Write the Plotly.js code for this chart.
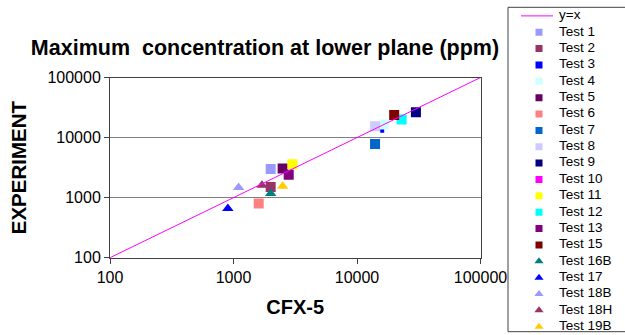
<!DOCTYPE html>
<html>
<head>
<meta charset="utf-8">
<script src="https://cdn.plot.ly/plotly-3.0.1.min.js"></script>
<style>html,body{margin:0;padding:0;background:#fff;}#chart{width:625px;height:335px;}</style>
</head>
<body>
<div id="chart"></div>
<script>
// ---- data ----
const tests = ['Test 1','Test 2','Test 3','Test 4','Test 5','Test 6','Test 7','Test 8','Test 9','Test 10',
               'Test 11','Test 12','Test 13','Test 15','Test 16B','Test 17','Test 18B','Test 18H','Test 19B'];
const cfx5 =       [2000, 2000, 16000, 16500, 2500, 1600, 14000, 14000, 30000, null, 3000, 23000, 2800, 20000, 2000, 900, 1100, 1700, 2500];
const experiment = [3000, 1500, 13000, 16500, 3050,  800,  7800, 15500, 26500, null, 3600, 20000, 2400, 23700, 1170, 660, 1480, 1610, 1550];
const colors = ['#9999FF','#993366','#0000FF','#CCFFFF','#660066','#FF8080','#0066CC','#CCCCFF','#000080','#FF00FF',
                '#FFFF00','#00FFFF','#800080','#800000','#008080','#0000FF','#9999FF','#993366','#FFCC00'];
const symbols = ['square','square','square','square','square','square','square','square','square','square',
                 'square','square','square','square','triangle-up','triangle-up','triangle-up','triangle-up','triangle-up'];
const lineLabel = 'y=x';
const lineX = [100, 100000];
const lineY = [100, 100000];
const tickVals = [100, 1000, 10000, 100000];
const tickLabels = ['100', '1000', '10000', '100000'];

// ---- layout constants (pixels) ----
const W = 625, H = 335;
const FONT = 'Liberation Sans, Arial, sans-serif';
const plotL = 110, plotR = 480.5, plotT = 77.5, plotB = 257.7;
const legL = 508, legMarkerX = 539, legTextX = 559;

const traces = [];
tests.forEach((name, i) => {
  const isTri = symbols[i] === 'triangle-up';
  traces.push({
    type: 'scatter', mode: 'markers', name: name,
    x: [cfx5[i]], y: [experiment[i]],
    xaxis: 'x', yaxis: 'y',
    marker: { color: colors[i], symbol: symbols[i], opacity: 1,
              size: name === 'Test 3' ? 4 : 10, line: { width: 0 } },
    showlegend: false, hoverinfo: 'x+y+name'
  });
});
traces.push({
  type: 'scatter', mode: 'lines', name: lineLabel, x: lineX, y: lineY,
  xaxis: 'x', yaxis: 'y', line: { color: '#FF00FF', width: 1 }, showlegend: false
});
// custom legend built from the same names / colours / symbols
traces.push({
  type: 'scatter', mode: 'markers', xaxis: 'x2', yaxis: 'y2',
  x: tests.map(() => legMarkerX), y: tests,
  marker: { color: colors, symbol: symbols, opacity: 1,
            size: symbols.map(s => s === 'square' ? 7 : 8), line: { width: 0 } },
  showlegend: false, hoverinfo: 'skip'
});
const legendLabels = [lineLabel].concat(tests);
traces.push({
  type: 'scatter', mode: 'text', xaxis: 'x2', yaxis: 'y2',
  x: legendLabels.map(() => legTextX), y: legendLabels, text: legendLabels,
  textposition: 'middle right', textfont: { family: FONT, size: 13.5, color: '#000' },
  showlegend: false, hoverinfo: 'skip'
});

const layout = {
  width: W, height: H,
  margin: { l: 0, r: 0, t: 0, b: 0 },
  paper_bgcolor: '#fff', plot_bgcolor: '#fff',
  font: { family: FONT, color: '#000' },
  showlegend: false,
  title: {
    text: 'Maximum  concentration at lower plane (ppm)',
    font: { family: FONT, size: 21.5, weight: 'bold', color: '#000' },
    x: 265 / W, xanchor: 'center', xref: 'paper',
    y: 1 - 47 / H, yanchor: 'middle', yref: 'container'
  },
  xaxis: {
    type: 'log', range: [2, 5], domain: [plotL / W, plotR / W],
    tickvals: tickVals, ticktext: tickLabels,
    ticks: 'outside', ticklen: 5, tickcolor: '#404040',
    tickfont: { family: FONT, size: 16, color: '#000' },
    showgrid: false, zeroline: false,
    showline: true, linecolor: '#404040', linewidth: 1, mirror: true,
    title: { text: 'CFX-5', font: { family: FONT, size: 20, weight: 'bold', color: '#000' }, standoff: 15 },
    automargin: false
  },
  yaxis: {
    type: 'log', range: [2, 5], domain: [(H - plotB) / H, (H - plotT) / H],
    tickvals: tickVals, ticktext: tickLabels,
    ticks: 'outside', ticklen: 5, tickcolor: '#404040',
    tickfont: { family: FONT, size: 16, color: '#000' },
    showgrid: true, gridcolor: '#808080', gridwidth: 1, zeroline: false,
    showline: true, linecolor: '#404040', linewidth: 1, mirror: true,
    title: { text: 'EXPERIMENT', font: { family: FONT, size: 20.5, weight: 'bold', color: '#000' }, standoff: 15 },
    automargin: false
  },
  xaxis2: { domain: [legL / W, 1], range: [legL, W], visible: false, fixedrange: true },
  yaxis2: {
    domain: [(H - 334.9) / H, (H - 7.7) / H], type: 'category',
    categoryorder: 'array', categoryarray: legendLabels,
    range: [legendLabels.length - 0.5, -0.5], visible: false, fixedrange: true
  },
  shapes: [
    { type: 'rect', xref: 'paper', yref: 'paper',
      x0: legL / W, x1: 1.02, y0: (H - 331.7) / H, y1: (H - 7.3) / H,
      line: { color: '#404040', width: 1 }, fillcolor: 'rgba(0,0,0,0)' },
    { type: 'line', xref: 'x2', yref: 'y2', x0: 521, x1: 553, y0: 0, y1: 0,
      line: { color: '#FF00FF', width: 1 } }
  ]
};

Plotly.newPlot('chart', traces, layout, { displayModeBar: false, staticPlot: true });
</script>
</body>
</html>
